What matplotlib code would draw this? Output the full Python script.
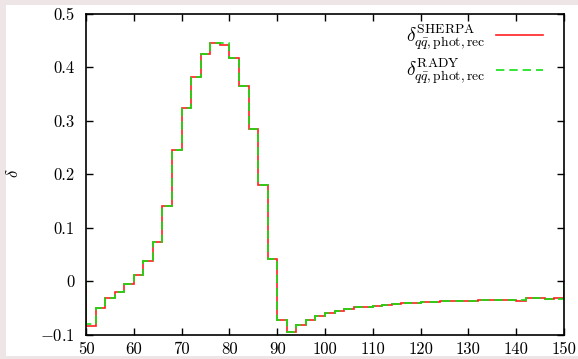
import numpy as np
import matplotlib
matplotlib.use('Agg')
import matplotlib.pyplot as plt
from matplotlib.patches import Rectangle

# bin edges (2 units wide) and the two delta histograms
edges = np.arange(50, 152, 2)
sherpa = [-0.084, -0.050, -0.031, -0.020, -0.005, 0.012, 0.037, 0.072, 0.140, 0.245,
          0.323, 0.382, 0.424, 0.444, 0.442, 0.416, 0.365, 0.285, 0.179, 0.041,
          -0.073, -0.095, -0.082, -0.072, -0.065, -0.060, -0.056, -0.053, -0.049, -0.048,
          -0.047, -0.045, -0.0435, -0.042, -0.041, -0.040, -0.0395, -0.038, -0.038, -0.037,
          -0.0365, -0.036, -0.0355, -0.035, -0.036, -0.0365, -0.032, -0.032, -0.033, -0.031]
rady = [-0.081, -0.050, -0.031, -0.020, -0.005, 0.012, 0.037, 0.072, 0.140, 0.245,
        0.323, 0.382, 0.424, 0.444, 0.445, 0.416, 0.365, 0.285, 0.179, 0.041,
        -0.073, -0.095, -0.082, -0.072, -0.065, -0.060, -0.056, -0.053, -0.049, -0.048,
        -0.047, -0.045, -0.0435, -0.042, -0.041, -0.040, -0.0395, -0.038, -0.038, -0.037,
        -0.0365, -0.036, -0.0355, -0.035, -0.0355, -0.035, -0.032, -0.032, -0.033, -0.033]

xticks = [50, 60, 70, 80, 90, 100, 110, 120, 130, 140, 150]
yticks = [-0.1, 0, 0.1, 0.2, 0.3, 0.4, 0.5]
yticklabels = ['$-0.1$', '0', '0.1', '0.2', '0.3', '0.4', '0.5']

plt.rcParams['font.family'] = 'serif'
plt.rcParams['font.serif'] = ['cmr10']
plt.rcParams['mathtext.fontset'] = 'cm'
plt.rcParams['axes.formatter.use_mathtext'] = True

fig = plt.figure(figsize=(5.78, 3.59), dpi=100)
fig.patch.set_facecolor('#eee6e6')
bg = Rectangle((6 / 578, 3 / 359), 572 / 578, 351 / 359,
               transform=fig.transFigure, facecolor='white',
               edgecolor='none', zorder=-10)
fig.add_artist(bg)
ax = fig.add_axes([86 / 578, 24.5 / 359, 478 / 578, 321 / 359])
ax.set_facecolor('none')

ax.stairs(sherpa, edges, color='#ff2020', lw=1.2,
          label=r'$\delta^{\rm SHERPA}_{q\bar{q},{\rm phot,rec}}$')
ax.stairs(rady, edges, color='#10e010', lw=1.2, ls=(0, (5, 3)),
          label=r'$\delta^{\rm RADY}_{q\bar{q},{\rm phot,rec}}$')

ax.set_xlim(50, 150)
ax.set_ylim(-0.1, 0.5)
ax.set_xticks(xticks)
ax.set_xticklabels([str(t) for t in xticks])
ax.set_yticks(yticks)
ax.set_yticklabels(yticklabels)
ax.tick_params(direction='in', top=True, right=True, length=5, width=1,
               labelsize=12)
ax.tick_params(axis='x', pad=5)
ax.tick_params(axis='y', pad=8)
for s in ax.spines.values():
    s.set_linewidth(1.2)

fig.text(13 / 578, 1 - 173 / 359, r'$\delta$', rotation=90, fontsize=12,
         ha='center', va='center')

ax.legend(loc='upper right', bbox_to_anchor=(0.993, 1.026), frameon=False,
          markerfirst=False, fontsize=14, handlelength=2.4, labelspacing=0.25,
          handletextpad=0.57)

plt.savefig('out.png', dpi=100, facecolor=fig.get_facecolor())
